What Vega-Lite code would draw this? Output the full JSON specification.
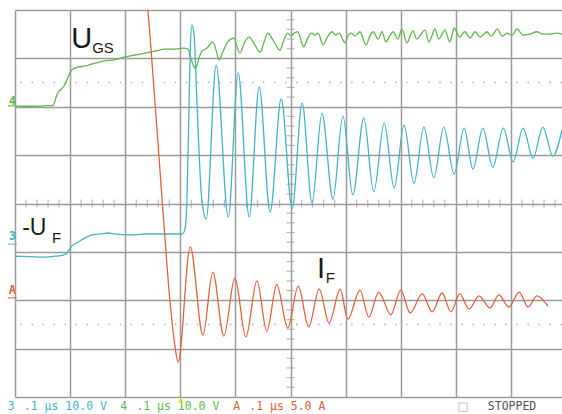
{
  "$schema": "https://vega.github.io/schema/vega-lite/v6.json",
  "width": 547,
  "height": 387,
  "autosize": {"type": "none"},
  "padding": {"left": 15, "top": 10, "right": 0, "bottom": 17},
  "background": "white",
  "config": {"view": {"stroke": null}},
  "datasets": {
    "traces": [
      {"ch":"4","t":0.00,"v":2.02},{"ch":"4","t":0.27,"v":2.01},{"ch":"4","t":0.54,"v":2.02},{"ch":"4","t":0.69,"v":2.03},{"ch":"4","t":0.74,"v":2.18},{"ch":"4","t":0.78,"v":2.30},{"ch":"4","t":0.85,"v":2.37},{"ch":"4","t":0.91,"v":2.47},{"ch":"4","t":0.96,"v":2.61},{"ch":"4","t":1.03,"v":2.76},{"ch":"4","t":1.14,"v":2.82},{"ch":"4","t":1.27,"v":2.84},{"ch":"4","t":1.45,"v":2.90},{"ch":"4","t":1.63,"v":2.95},{"ch":"4","t":1.81,"v":2.97},{"ch":"4","t":2.00,"v":3.03},{"ch":"4","t":2.18,"v":3.07},{"ch":"4","t":2.36,"v":3.11},{"ch":"4","t":2.54,"v":3.15},{"ch":"4","t":2.72,"v":3.19},{"ch":"4","t":2.90,"v":3.19},{"ch":"4","t":3.05,"v":3.21},{"ch":"4","t":3.14,"v":3.19},{"ch":"4","t":3.19,"v":3.01},{"ch":"4","t":3.25,"v":2.82},{"ch":"4","t":3.28,"v":2.80},{"ch":"4","t":3.34,"v":3.01},{"ch":"4","t":3.39,"v":3.15},{"ch":"4","t":3.48,"v":3.21},{"ch":"4","t":3.59,"v":3.34},{"ch":"4","t":3.65,"v":3.17},{"ch":"4","t":3.70,"v":2.97},{"ch":"4","t":3.77,"v":3.13},{"ch":"4","t":3.86,"v":3.34},{"ch":"4","t":3.97,"v":3.42},{"ch":"4","t":4.08,"v":3.11},{"ch":"4","t":4.17,"v":3.34},{"ch":"4","t":4.25,"v":3.44},{"ch":"4","t":4.34,"v":3.30},{"ch":"4","t":4.45,"v":3.13},{"ch":"4","t":4.52,"v":3.34},{"ch":"4","t":4.59,"v":3.52},{"ch":"4","t":4.68,"v":3.38},{"ch":"4","t":4.81,"v":3.17},{"ch":"4","t":4.88,"v":3.38},{"ch":"4","t":4.95,"v":3.52},{"ch":"4","t":5.01,"v":3.46},{"ch":"4","t":5.06,"v":3.52},{"ch":"4","t":5.13,"v":3.55},{"ch":"4","t":5.24,"v":3.24},{"ch":"4","t":5.31,"v":3.42},{"ch":"4","t":5.39,"v":3.52},{"ch":"4","t":5.44,"v":3.48},{"ch":"4","t":5.50,"v":3.52},{"ch":"4","t":5.59,"v":3.28},{"ch":"4","t":5.66,"v":3.42},{"ch":"4","t":5.75,"v":3.55},{"ch":"4","t":5.82,"v":3.48},{"ch":"4","t":5.88,"v":3.52},{"ch":"4","t":5.99,"v":3.32},{"ch":"4","t":6.04,"v":3.46},{"ch":"4","t":6.10,"v":3.52},{"ch":"4","t":6.17,"v":3.46},{"ch":"4","t":6.26,"v":3.55},{"ch":"4","t":6.37,"v":3.28},{"ch":"4","t":6.44,"v":3.46},{"ch":"4","t":6.50,"v":3.55},{"ch":"4","t":6.59,"v":3.40},{"ch":"4","t":6.66,"v":3.55},{"ch":"4","t":6.73,"v":3.34},{"ch":"4","t":6.80,"v":3.46},{"ch":"4","t":6.86,"v":3.55},{"ch":"4","t":6.95,"v":3.40},{"ch":"4","t":7.02,"v":3.61},{"ch":"4","t":7.11,"v":3.32},{"ch":"4","t":7.17,"v":3.46},{"ch":"4","t":7.22,"v":3.57},{"ch":"4","t":7.29,"v":3.40},{"ch":"4","t":7.37,"v":3.50},{"ch":"4","t":7.44,"v":3.59},{"ch":"4","t":7.51,"v":3.34},{"ch":"4","t":7.57,"v":3.48},{"ch":"4","t":7.62,"v":3.61},{"ch":"4","t":7.69,"v":3.40},{"ch":"4","t":7.75,"v":3.50},{"ch":"4","t":7.80,"v":3.59},{"ch":"4","t":7.89,"v":3.34},{"ch":"4","t":7.93,"v":3.48},{"ch":"4","t":7.97,"v":3.63},{"ch":"4","t":8.07,"v":3.44},{"ch":"4","t":8.16,"v":3.55},{"ch":"4","t":8.26,"v":3.42},{"ch":"4","t":8.35,"v":3.55},{"ch":"4","t":8.44,"v":3.44},{"ch":"4","t":8.51,"v":3.50},{"ch":"4","t":8.56,"v":3.55},{"ch":"4","t":8.64,"v":3.46},{"ch":"4","t":8.69,"v":3.52},{"ch":"4","t":8.75,"v":3.61},{"ch":"4","t":8.84,"v":3.46},{"ch":"4","t":8.93,"v":3.52},{"ch":"4","t":9.02,"v":3.48},{"ch":"4","t":9.11,"v":3.61},{"ch":"4","t":9.22,"v":3.48},{"ch":"4","t":9.34,"v":3.50},{"ch":"4","t":9.47,"v":3.55},{"ch":"4","t":9.58,"v":3.50},{"ch":"4","t":9.71,"v":3.50},{"ch":"4","t":9.83,"v":3.52},{"ch":"4","t":9.93,"v":3.50},
      {"ch":"3","t":0.00,"v":-1.09},{"ch":"3","t":0.27,"v":-1.10},{"ch":"3","t":0.54,"v":-1.11},{"ch":"3","t":0.73,"v":-1.09},{"ch":"3","t":0.85,"v":-1.07},{"ch":"3","t":0.93,"v":-1.04},{"ch":"3","t":0.98,"v":-0.96},{"ch":"3","t":1.03,"v":-0.88},{"ch":"3","t":1.14,"v":-0.80},{"ch":"3","t":1.27,"v":-0.71},{"ch":"3","t":1.40,"v":-0.65},{"ch":"3","t":1.54,"v":-0.63},{"ch":"3","t":1.69,"v":-0.61},{"ch":"3","t":1.81,"v":-0.63},{"ch":"3","t":2.00,"v":-0.65},{"ch":"3","t":2.18,"v":-0.65},{"ch":"3","t":2.36,"v":-0.63},{"ch":"3","t":2.63,"v":-0.63},{"ch":"3","t":2.90,"v":-0.63},{"ch":"3","t":3.03,"v":-0.63},{"ch":"3","t":3.08,"v":-0.55},{"ch":"3","t":3.12,"v":0.07},{"ch":"3","t":3.16,"v":2.14},{"ch":"3","t":3.18,"v":3.17},{"ch":"3","t":3.21,"v":3.69},{"ch":"3","t":3.25,"v":3.48},{"ch":"3","t":3.30,"v":2.14},{"ch":"3","t":3.39,"v":0.07},{"ch":"3","t":3.47,"v":-0.32},{"ch":"3","t":3.65,"v":2.86},{"ch":"3","t":3.87,"v":-0.28},{"ch":"3","t":4.05,"v":2.70},{"ch":"3","t":4.25,"v":-0.28},{"ch":"3","t":4.43,"v":2.41},{"ch":"3","t":4.63,"v":-0.18},{"ch":"3","t":4.83,"v":2.16},{"ch":"3","t":5.03,"v":-0.11},{"ch":"3","t":5.21,"v":2.08},{"ch":"3","t":5.39,"v":0.01},{"ch":"3","t":5.57,"v":1.87},{"ch":"3","t":5.77,"v":0.09},{"ch":"3","t":5.95,"v":1.81},{"ch":"3","t":6.13,"v":0.18},{"ch":"3","t":6.33,"v":1.77},{"ch":"3","t":6.51,"v":0.24},{"ch":"3","t":6.70,"v":1.66},{"ch":"3","t":6.88,"v":0.32},{"ch":"3","t":7.06,"v":1.62},{"ch":"3","t":7.24,"v":0.42},{"ch":"3","t":7.42,"v":1.58},{"ch":"3","t":7.60,"v":0.53},{"ch":"3","t":7.78,"v":1.58},{"ch":"3","t":7.97,"v":0.61},{"ch":"3","t":8.15,"v":1.56},{"ch":"3","t":8.31,"v":0.71},{"ch":"3","t":8.49,"v":1.56},{"ch":"3","t":8.67,"v":0.75},{"ch":"3","t":8.86,"v":1.56},{"ch":"3","t":9.04,"v":0.86},{"ch":"3","t":9.22,"v":1.56},{"ch":"3","t":9.40,"v":0.94},{"ch":"3","t":9.58,"v":1.58},{"ch":"3","t":9.76,"v":0.98},{"ch":"3","t":9.93,"v":1.54},
      {"ch":"A","t":2.38,"v":4.31},{"ch":"A","t":2.41,"v":4.00},{"ch":"A","t":2.47,"v":3.17},{"ch":"A","t":2.67,"v":0.07},{"ch":"A","t":2.81,"v":-1.99},{"ch":"A","t":2.90,"v":-2.93},{"ch":"A","t":2.96,"v":-3.28},{"ch":"A","t":3.18,"v":-0.90},{"ch":"A","t":3.41,"v":-2.72},{"ch":"A","t":3.59,"v":-1.42},{"ch":"A","t":3.79,"v":-2.74},{"ch":"A","t":3.99,"v":-1.54},{"ch":"A","t":4.19,"v":-2.76},{"ch":"A","t":4.39,"v":-1.60},{"ch":"A","t":4.57,"v":-2.64},{"ch":"A","t":4.75,"v":-1.68},{"ch":"A","t":4.95,"v":-2.57},{"ch":"A","t":5.14,"v":-1.71},{"ch":"A","t":5.33,"v":-2.55},{"ch":"A","t":5.52,"v":-1.77},{"ch":"A","t":5.70,"v":-2.47},{"ch":"A","t":5.90,"v":-1.77},{"ch":"A","t":6.04,"v":-2.39},{"ch":"A","t":6.26,"v":-1.79},{"ch":"A","t":6.42,"v":-2.35},{"ch":"A","t":6.60,"v":-1.83},{"ch":"A","t":6.82,"v":-2.30},{"ch":"A","t":7.00,"v":-1.79},{"ch":"A","t":7.17,"v":-2.26},{"ch":"A","t":7.39,"v":-1.87},{"ch":"A","t":7.57,"v":-2.24},{"ch":"A","t":7.75,"v":-1.85},{"ch":"A","t":7.91,"v":-2.24},{"ch":"A","t":8.07,"v":-1.87},{"ch":"A","t":8.24,"v":-2.18},{"ch":"A","t":8.42,"v":-1.91},{"ch":"A","t":8.62,"v":-2.16},{"ch":"A","t":8.78,"v":-1.89},{"ch":"A","t":8.96,"v":-2.14},{"ch":"A","t":9.15,"v":-1.83},{"ch":"A","t":9.31,"v":-2.14},{"ch":"A","t":9.47,"v":-1.91},{"ch":"A","t":9.67,"v":-2.12}
    ],
    "vticks": [{"v":-3.8},{"v":-3.6},{"v":-3.4},{"v":-3.2},{"v":-2.8},{"v":-2.6},{"v":-2.4},{"v":-2.2},{"v":-1.8},{"v":-1.6},{"v":-1.4},{"v":-1.2},{"v":-0.8},{"v":-0.6},{"v":-0.4},{"v":-0.2},{"v":0.2},{"v":0.4},{"v":0.6},{"v":0.8},{"v":1.2},{"v":1.4},{"v":1.6},{"v":1.8},{"v":2.2},{"v":2.4},{"v":2.6},{"v":2.8},{"v":3.2},{"v":3.4},{"v":3.6},{"v":3.8}],
    "hticks": [{"t":0.2},{"t":0.4},{"t":0.6},{"t":0.8},{"t":1.2},{"t":1.4},{"t":1.6},{"t":1.8},{"t":2.2},{"t":2.4},{"t":2.6},{"t":2.8},{"t":3.2},{"t":3.4},{"t":3.6},{"t":3.8},{"t":4.2},{"t":4.4},{"t":4.6},{"t":4.8},{"t":5.2},{"t":5.4},{"t":5.6},{"t":5.8},{"t":6.2},{"t":6.4},{"t":6.6},{"t":6.8},{"t":7.2},{"t":7.4},{"t":7.6},{"t":7.8},{"t":8.2},{"t":8.4},{"t":8.6},{"t":8.8},{"t":9.2},{"t":9.4},{"t":9.6},{"t":9.8}]
  },
  "layer": [
    {
      "data": {"values": [{"v": 2.5}, {"v": -2.5}]},
      "mark": {"type": "rule", "color": "#b0b0b0", "strokeWidth": 1.5, "strokeDash": [1.5, 9.52]},
      "encoding": {
        "y": {"field": "v", "type": "quantitative",
              "scale": {"domain": [-4, 4], "nice": false, "zero": false},
              "axis": {"values": [-4,-3,-2,-1,0,1,2,3,4], "grid": true, "gridColor": "#9c9c9c", "gridWidth": 1.5, "labels": false, "ticks": false, "domain": false, "title": null}}
      }
    },
    {
      "data": {"name": "vticks"},
      "mark": {"type": "tick", "orient": "horizontal", "size": 8, "thickness": 1.2, "color": "#9c9c9c"},
      "encoding": {
        "x": {"datum": 5, "type": "quantitative",
              "scale": {"domain": [0, 9.926], "nice": false, "zero": false},
              "axis": {"values": [0,1,2,3,4,5,6,7,8,9], "grid": true, "gridColor": "#9c9c9c", "gridWidth": 1.5, "labels": false, "ticks": false, "domain": false, "title": null}},
        "y": {"field": "v", "type": "quantitative"}
      }
    },
    {
      "data": {"name": "hticks"},
      "mark": {"type": "tick", "orient": "vertical", "size": 8, "thickness": 1.2, "color": "#9c9c9c"},
      "encoding": {
        "x": {"field": "t", "type": "quantitative"},
        "y": {"datum": 0, "type": "quantitative"}
      }
    },
    {
      "data": {"name": "traces"},
      "mark": {"type": "line", "interpolate": "monotone", "strokeWidth": 1.3, "clip": true},
      "encoding": {
        "x": {"field": "t", "type": "quantitative"},
        "y": {"field": "v", "type": "quantitative"},
        "color": {"field": "ch", "type": "nominal", "legend": null,
                  "scale": {"domain": ["3","4","A","S"], "range": ["#45b3c7", "#5fb84c", "#e5603a", "#555555"]}},
        "order": {"field": "t", "type": "quantitative"}
      }
    },
    {
      "data": {"values": [{"t": 1.02, "v": 3.21, "s": "U"}, {"t": 5.48, "v": -1.54, "s": "I"}]},
      "mark": {"type": "text", "align": "left", "baseline": "alphabetic", "font": "Liberation Sans", "fontSize": 29, "color": "#1a1a1a"},
      "encoding": {"x": {"field": "t", "type": "quantitative"}, "y": {"field": "v", "type": "quantitative"}, "text": {"field": "s"}}
    },
    {
      "data": {"values": [{"t": 0.13, "v": -0.65, "s": "-U"}]},
      "mark": {"type": "text", "align": "left", "baseline": "alphabetic", "font": "Liberation Sans", "fontSize": 23, "color": "#1a1a1a"},
      "encoding": {"x": {"field": "t", "type": "quantitative"}, "y": {"field": "v", "type": "quantitative"}, "text": {"field": "s"}}
    },
    {
      "data": {"values": [{"t": 1.40, "v": 3.11, "s": "GS"}, {"t": 0.67, "v": -0.82, "s": "F"}, {"t": 5.64, "v": -1.64, "s": "F"}]},
      "mark": {"type": "text", "align": "left", "baseline": "alphabetic", "font": "Liberation Sans", "fontSize": 15, "color": "#1a1a1a"},
      "encoding": {"x": {"field": "t", "type": "quantitative"}, "y": {"field": "v", "type": "quantitative"}, "text": {"field": "s"}}
    },
    {
      "data": {"values": [{"t": -0.05, "v": 2.12, "s": "4", "ch": "4"}, {"t": -0.05, "v": -0.67, "s": "3", "ch": "3"}, {"t": -0.05, "v": -1.79, "s": "A", "ch": "A"}]},
      "mark": {"type": "text", "align": "center", "baseline": "middle", "font": "DejaVu Sans Mono", "fontSize": 12, "fontWeight": "bold"},
      "encoding": {"x": {"field": "t", "type": "quantitative"}, "y": {"field": "v", "type": "quantitative"}, "text": {"field": "s"}, "color": {"field": "ch", "type": "nominal", "legend": null}}
    },
    {
      "data": {"values": [{"t": -0.05, "v": 2.02, "ch": "4"}, {"t": -0.05, "v": -0.84, "ch": "3"}, {"t": -0.05, "v": -1.95, "ch": "A"}]},
      "mark": {"type": "tick", "orient": "horizontal", "size": 9, "thickness": 1.5},
      "encoding": {"x": {"field": "t", "type": "quantitative"}, "y": {"field": "v", "type": "quantitative"}, "color": {"field": "ch", "type": "nominal", "legend": null}}
    },
    {
      "data": {"values": [
        {"t": -0.13, "v": -4.21, "s": "3", "ch": "3"},
        {"t": 0.16, "v": -4.21, "s": ".1 µs 10.0 V", "ch": "3"},
        {"t": 1.91, "v": -4.21, "s": "4", "ch": "4"},
        {"t": 2.20, "v": -4.21, "s": ".1 µs 10.0 V", "ch": "4"},
        {"t": 3.96, "v": -4.21, "s": "A", "ch": "A"},
        {"t": 4.25, "v": -4.21, "s": ".1 µs 5.0 A", "ch": "A"},
        {"t": 8.58, "v": -4.21, "s": "STOPPED", "ch": "S"}
      ]},
      "mark": {"type": "text", "align": "left", "baseline": "middle", "font": "DejaVu Sans Mono", "fontSize": 11.5},
      "encoding": {"x": {"field": "t", "type": "quantitative"}, "y": {"field": "v", "type": "quantitative"}, "text": {"field": "s"}, "color": {"field": "ch", "type": "nominal", "legend": null}}
    },
    {
      "data": {"values": [{"t": 8.13, "v": -4.21}]},
      "mark": {"type": "point", "shape": "square", "size": 70, "filled": false, "color": "#aaaaaa", "strokeWidth": 1},
      "encoding": {"x": {"field": "t", "type": "quantitative"}, "y": {"field": "v", "type": "quantitative"}}
    },
    {
      "data": {"values": [{"t": 3.01, "v": -4.06}]},
      "mark": {"type": "point", "shape": "triangle-up", "size": 30, "filled": true, "color": "#e8d51e", "opacity": 1},
      "encoding": {"x": {"field": "t", "type": "quantitative"}, "y": {"field": "v", "type": "quantitative"}}
    }
  ]
}
